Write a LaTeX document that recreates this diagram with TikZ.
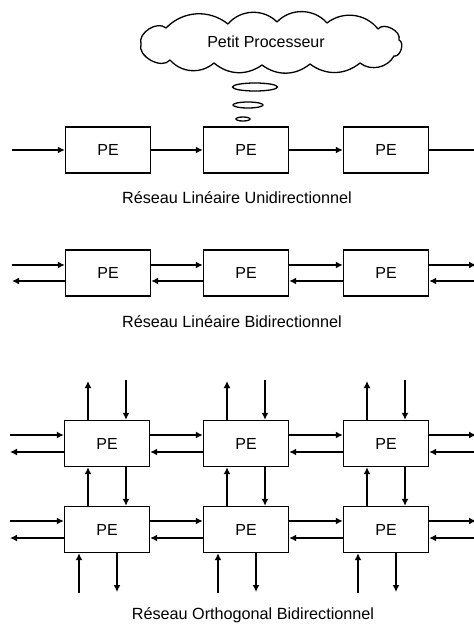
\documentclass[tikz,border=0pt]{standalone}
\usepackage{fontspec}
\setmainfont{Liberation Sans}
\usetikzlibrary{arrows.meta,shapes.geometric}
\begin{document}
\begin{tikzpicture}[x=1pt,y=-1pt,
  pe/.style={draw,line width=1.4pt,minimum width=85pt,minimum height=46pt,
    inner sep=0pt,font=\fontsize{16}{18}\selectfont},
  arr/.style={line width=1.8pt,-{Latex[length=7pt,width=7pt]}},
  lnk/.style={line width=1.8pt},
  caption/.style={font=\fontsize{16.2}{18}\selectfont},
  bubble/.style={draw,ellipse,line width=1.3pt,inner sep=0pt}]
\clip (0,0) rectangle (474,624);

% thought cloud, drawn as a ring of puffs
\draw[line width=1.3pt,line join=round]
  (141,44) to[bend left=75] (166,28) to[bend left=42] (228,24)
  to[bend left=48] (277,22) to[bend left=48] (327,23)
  to[bend left=45] (378,29) to[bend left=80] (399,40)
  to[bend left=85] (394,56) to[bend left=50] (360,63)
  to[bend left=38] (310,64) to[bend left=38] (262,65)
  to[bend left=38] (214,63) to[bend left=45] (170,60)
  to[bend left=80] cycle;
\node[font=\fontsize{16}{18}\selectfont] (cloud) at (266,42) {Petit Processeur};
\node[bubble,minimum width=45pt,minimum height=8pt] (b1) at (255,87) {};
\node[bubble,minimum width=30pt,minimum height=6pt] (b2) at (248,105) {};
\node[bubble,minimum width=14pt,minimum height=4pt] (b3) at (243,119) {};

% unidirectional linear array
\node[pe] (u1) at (108,150) {PE};
\node[pe] (u2) at (246,150) {PE};
\node[pe] (u3) at (386,150) {PE};
\coordinate (uin) at (12,150);
\coordinate (uout) at (474,150);
\draw[arr] (uin) -- (u1.west);
\draw[arr] (u1.east) -- (u2.west);
\draw[arr] (u2.east) -- (u3.west);
\draw[lnk] (u3.east) -- (uout);
\node[caption] (cu) at (237,198) {Réseau Linéaire Unidirectionnel};

% bidirectional linear array
\node[pe] (d1) at (108,273) {PE};
\node[pe] (d2) at (246,273) {PE};
\node[pe] (d3) at (386,273) {PE};
\coordinate (din) at (12,265);
\coordinate (dout) at (12,281);
\coordinate (ein) at (476,281);
\coordinate (eout) at (476,265);
\draw[arr] (din) -- ([yshift=8pt]d1.west);
\draw[arr] ([yshift=-8pt]d1.west) -- (dout);
\foreach \a/\b in {d1/d2,d2/d3}{
  \draw[arr] ([yshift=8pt]\a.east) -- ([yshift=8pt]\b.west);
  \draw[arr] ([yshift=-8pt]\b.west) -- ([yshift=-8pt]\a.east);
}
\draw[arr] ([yshift=8pt]d3.east) -- (eout);
\draw[arr] (ein) -- ([yshift=-8pt]d3.east);
\node[caption] (cd) at (232,322) {Réseau Linéaire Bidirectionnel};

% orthogonal bidirectional array
\node[pe] (g11) at (107,443.5) {PE};
\node[pe] (g12) at (246,443.5) {PE};
\node[pe] (g13) at (386,443.5) {PE};
\node[pe] (g21) at (107,529.5) {PE};
\node[pe] (g22) at (246,529.5) {PE};
\node[pe] (g23) at (386,529.5) {PE};

\foreach \r/\y in {1/443.5,2/529.5}{
  \coordinate (lin\r) at (10,\y-8.5);
  \coordinate (lout\r) at (10,\y+8.5);
  \coordinate (rout\r) at (476,\y-8.5);
  \coordinate (rin\r) at (476,\y+8.5);
  \draw[arr] (lin\r) -- ([yshift=8.5pt]g\r1.west);
  \draw[arr] ([yshift=-8.5pt]g\r1.west) -- (lout\r);
  \foreach \a/\b in {1/2,2/3}{
    \draw[arr] ([yshift=8.5pt]g\r\a.east) -- ([yshift=8.5pt]g\r\b.west);
    \draw[arr] ([yshift=-8.5pt]g\r\b.west) -- ([yshift=-8.5pt]g\r\a.east);
  }
  \draw[arr] ([yshift=8.5pt]g\r3.east) -- (rout\r);
  \draw[arr] (rin\r) -- ([yshift=-8.5pt]g\r3.east);
}

\foreach \c in {1,2,3}{
  % links to the top
  \coordinate (tu\c) at ([xshift=-19pt]g1\c.north |- 0,381);
  \coordinate (td\c) at ([xshift=19pt]g1\c.north |- 0,380);
  \draw[arr] ([xshift=-19pt]g1\c.north) -- (tu\c);
  \draw[arr] (td\c) -- ([xshift=19pt]g1\c.north);
  % links between the rows
  \draw[arr] ([xshift=-19pt]g2\c.north) -- ([xshift=-19pt]g1\c.south);
  \draw[arr] ([xshift=19pt]g1\c.south) -- ([xshift=19pt]g2\c.north);
  % links to the bottom
  \coordinate (bu\c) at ([xshift=-28pt]g2\c.south |- 0,593);
  \coordinate (bd\c) at ([xshift=10pt]g2\c.south |- 0,592);
  \draw[arr] (bu\c) -- ([xshift=-28pt]g2\c.south);
  \draw[arr] ([xshift=10pt]g2\c.south) -- (bd\c);
}
\node[caption] (co) at (253,615) {Réseau Orthogonal Bidirectionnel};
\end{tikzpicture}
\end{document}
